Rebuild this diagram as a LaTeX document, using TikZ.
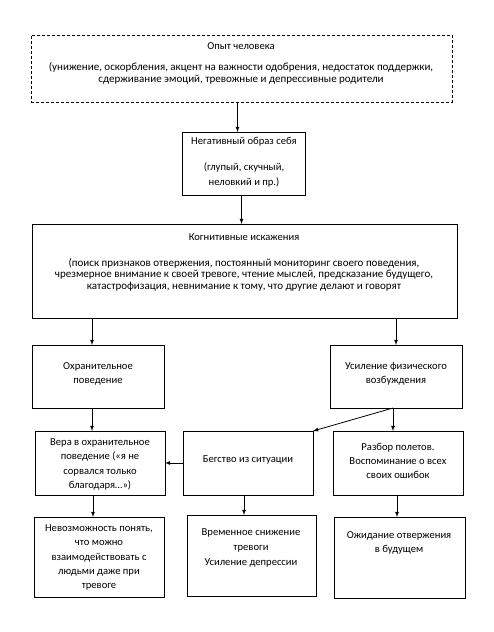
\documentclass[tikz,border=0pt]{standalone}
\usepackage{fontspec}
\setmainfont{Carlito}
\usetikzlibrary{arrows}

\tikzset{
  box/.style={draw, line width=0.8pt, inner sep=0pt, outer sep=0pt, anchor=north west},
  txt/.style={align=center, inner sep=0pt, font=\fontsize{10.6}{14.4}\selectfont},
  tight/.style={font=\fontsize{11}{11.5}\selectfont},
  arr/.style={-latex, line width=0.8pt}
}

\begin{document}
\begin{tikzpicture}[x=1pt, y=-1pt]
\useasboundingbox (0,0) rectangle (494,632);
% boxes
\node[box, dashed, dash pattern=on 3pt off 2pt, minimum width=421pt, minimum height=67pt] (exp) at (31,35) {};
\node[box, minimum width=123pt, minimum height=63pt] (self) at (182,132) {};
\node[box, minimum width=425pt, minimum height=94pt] (cogn) at (32,224) {};
\node[box, minimum width=132pt, minimum height=63pt] (safe) at (32,345) {};
\node[box, minimum width=132pt, minimum height=63pt] (arous) at (330,345) {};
\node[box, minimum width=130pt, minimum height=64pt] (belief) at (35,431) {};
\node[box, minimum width=130pt, minimum height=64pt] (escape) at (183,431) {};
\node[box, minimum width=130pt, minimum height=64pt] (review) at (333,431) {};
\node[box, minimum width=130pt, minimum height=80pt] (unable) at (34,517) {};
\node[box, minimum width=129pt, minimum height=81pt] (relief) at (187,515) {};
\node[box, minimum width=131pt, minimum height=81pt] (expect) at (334,517) {};
% texts
\node[txt] (expT) at (241,46) {Опыт человека};
\node[txt, tight] (expD) at (241,73.5) {(унижение, оскорбления, акцент на важности одобрения, недостаток поддержки,\\сдерживание эмоций, тревожные и депрессивные родители};
\node[txt] (selfT) at (244,142) {Негативный образ себя};
\node[txt] (selfD) at (244,175) {(глупый, скучный,\\неловкий и пр.)};
\node[txt] (cognT) at (244,237) {Когнитивные искажения};
\node[txt, tight] (cognD) at (244,274.5) {(поиск признаков отвержения, постоянный мониторинг своего поведения,\\чрезмерное внимание к своей тревоге, чтение мыслей, предсказание будущего,\\катастрофизация, невнимание к тому, что другие делают и говорят};
\node[txt] (safeT) at (98,374) {Охранительное\\поведение};
\node[txt] (arousT) at (396,374) {Усиление физического\\возбуждения};
\node[txt] (beliefT) at (100,464.5) {Вера в охранительное\\поведение («я не\\сорвался только\\благодаря…»)};
\node[txt] (escapeT) at (248,460) {Бегство из ситуации};
\node[txt] (reviewT) at (398,461) {Разбор полетов.\\Воспоминание о всех\\своих ошибок};
\node[txt] (unableT) at (99,557.5) {Невозможность понять,\\что можно\\взаимодействовать с\\людьми даже при\\тревоге};
\node[txt] (reliefT) at (251,540.5) {Временное снижение\\тревоги};
\node[txt] (reliefD) at (251,563) {Усиление депрессии};
\node[txt] (expectT) at (399,543) {Ожидание отвержения\\в будущем};
% arrows
\draw[arr] ([xshift=-4pt]exp.south) -- ([xshift=-4pt]exp.south |- self.north);
\draw[arr] ([xshift=-2pt]self.south) -- ([xshift=-2pt]self.south |- cogn.north);
\draw[arr] ([xshift=-6pt]safe.north |- cogn.south) -- ([xshift=-6pt]safe.north);
\draw[arr] (arous.north |- cogn.south) -- (arous.north);
\draw[arr] ([xshift=-8pt]belief.north |- safe.south) -- ([xshift=-8pt]belief.north);
\draw[arr] ([xshift=-3pt]arous.south) -- (escape.north east);
\draw[arr] ([xshift=-3pt]arous.south) -- ([xshift=-3pt]arous.south |- review.north);
\draw[arr] (escape.west) -- (belief.east);
\draw[arr] ([xshift=-7pt]belief.south) -- ([xshift=-7pt]belief.south |- unable.north);
\draw[arr] ([xshift=-4pt]escape.south) -- ([xshift=-4pt]escape.south |- relief.north);
\draw[arr] ([xshift=-1pt]review.south) -- ([xshift=-1pt]review.south |- expect.north);
\end{tikzpicture}
\end{document}
